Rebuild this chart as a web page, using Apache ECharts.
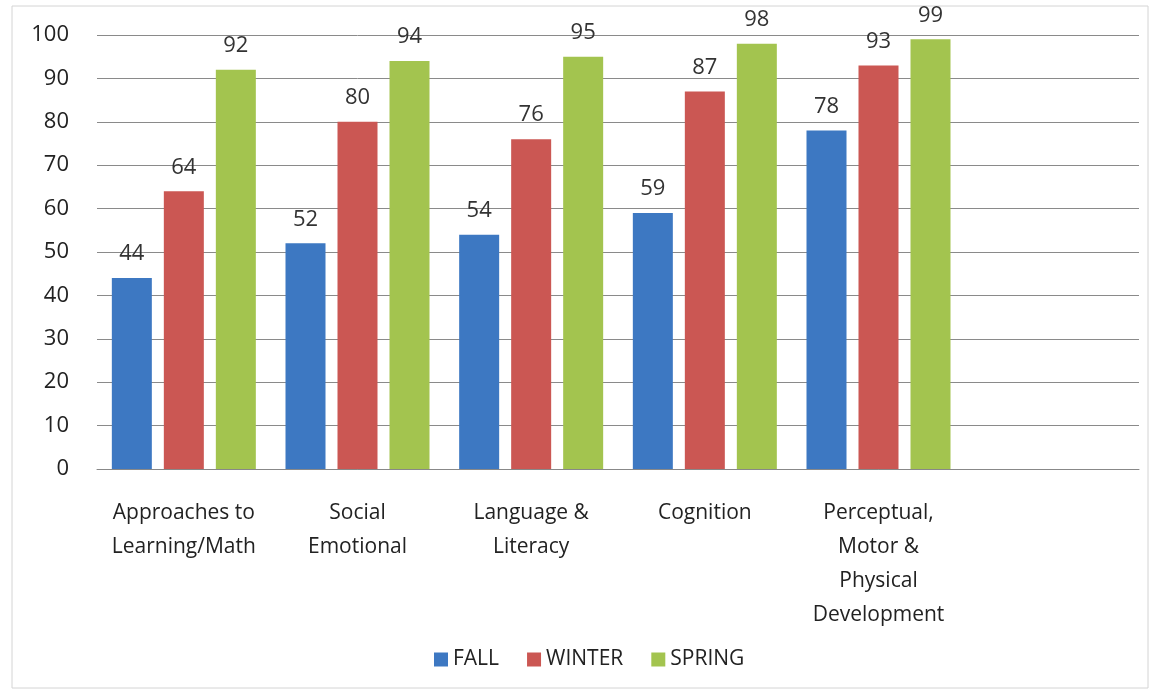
<!DOCTYPE html>
<html>
<head>
<meta charset="utf-8">
<script src="https://cdn.jsdelivr.net/npm/echarts@6/dist/echarts.min.js"></script>
<style>
  html, body { margin: 0; padding: 0; background: #fff; }
  #chart { width: 1161px; height: 693px; }
</style>
</head>
<body>
<div id="chart"></div>
<script>
const categories = [
    'Approaches to\nLearning/Math',
    'Social\nEmotional',
    'Language &\nLiteracy',
    'Cognition',
    'Perceptual,\nMotor &\nPhysical\nDevelopment',
    ''
];
const fall = [44, 52, 54, 59, 78, null];
const winter = [64, 80, 76, 87, 93, null];
const spring = [92, 94, 95, 98, 99, null];
const seriesNames = ['FALL', 'WINTER', 'SPRING'];
const colors = ['#3D78C2', '#CB5753', '#A3C44F'];

const font = '"Open Sans", "Noto Sans", sans-serif';

function makeSeries(name, values, color) {
    return {
        name: name,
        type: 'bar',
        data: values,
        barWidth: 40,
        barGap: '30%',
        itemStyle: { color: color },
        label: {
            show: true,
            position: 'top',
            distance: 13,
            fontSize: 22,
            fontFamily: font,
            color: '#333'
        }
    };
}

const chart = echarts.init(document.getElementById('chart'));
chart.setOption({
    animation: false,
    backgroundColor: '#fff',
    textStyle: { fontFamily: font },
    graphic: [{
        type: 'rect',
        shape: { x: 12, y: 6, width: 1136, height: 682 },
        style: { fill: 'none', stroke: '#d4d4d4', lineWidth: 1 },
        silent: true
    }],
    grid: { left: 97, right: 22, top: 35, bottom: 224 },
    legend: {
        data: seriesNames,
        left: 429,
        top: 644,
        icon: 'rect',
        itemWidth: 14,
        itemHeight: 14,
        itemGap: 28,
        textStyle: { fontSize: 21, color: '#222', fontFamily: font }
    },
    xAxis: {
        type: 'category',
        data: categories,
        axisTick: { show: false },
        axisLine: { lineStyle: { color: '#888', width: 1 } },
        axisLabel: {
            interval: 0,
            fontSize: 21,
            lineHeight: 34,
            margin: 27,
            color: '#222',
            fontFamily: font
        }
    },
    yAxis: {
        type: 'value',
        min: 0,
        max: 100,
        interval: 10,
        axisLine: { show: false },
        axisTick: { show: false },
        splitLine: { lineStyle: { color: '#8a8a8a', width: 1 } },
        axisLabel: { fontSize: 22, margin: 28, color: '#222', fontFamily: font }
    },
    series: [
        makeSeries(seriesNames[0], fall, colors[0]),
        makeSeries(seriesNames[1], winter, colors[1]),
        makeSeries(seriesNames[2], spring, colors[2])
    ]
});
</script>
</body>
</html>
